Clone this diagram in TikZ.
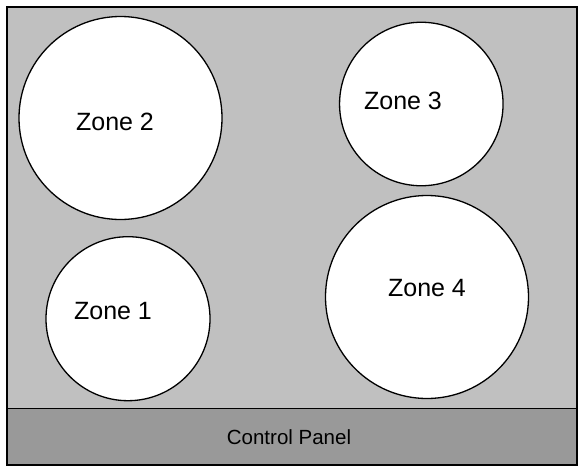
\documentclass[tikz,border=0pt]{standalone}
\usepackage{fontspec}
\setmainfont{Liberation Sans}
\definecolor{plategray}{HTML}{C0C0C0}
\definecolor{panelgray}{HTML}{999999}
\tikzset{
	zone/.style={circle,draw,fill=white,line width=1.3pt,inner sep=0pt},
	zonetext/.style={font=\fontsize{25}{30}\selectfont}
}
\begin{document}
\begin{tikzpicture}[x=1pt,y=-1pt]
		\useasboundingbox (0,0) rectangle (578,466);

		\draw[fill=plategray, line width=1.3pt] (7,7) rectangle (577,465);
		\draw[fill=panelgray, line width=1.3pt] (7,408.5) rectangle (577,465);

		\draw (120.5,118) node (zone2) [zone,minimum size=203pt] {};
		\draw (421.3,104) node (zone3) [zone,minimum size=163.5pt] {};
		\draw (128,318.7) node (zone1) [zone,minimum size=164pt] {};
		\draw (427,297) node (zone4) [zone,minimum size=203pt] {};

		\draw (115,122) node (zone2text) [zonetext] {Zone 2};
		\draw (403,101) node (zone3text) [zonetext] {Zone 3};
		\draw (113,311) node (zone1text) [zonetext] {Zone 1};
		\draw (427,288) node (zone4text) [zonetext] {Zone 4};

		\draw (289,437) node (panel) [font=\fontsize{20.5}{24}\selectfont] {Control Panel};
	\end{tikzpicture}
\end{document}
